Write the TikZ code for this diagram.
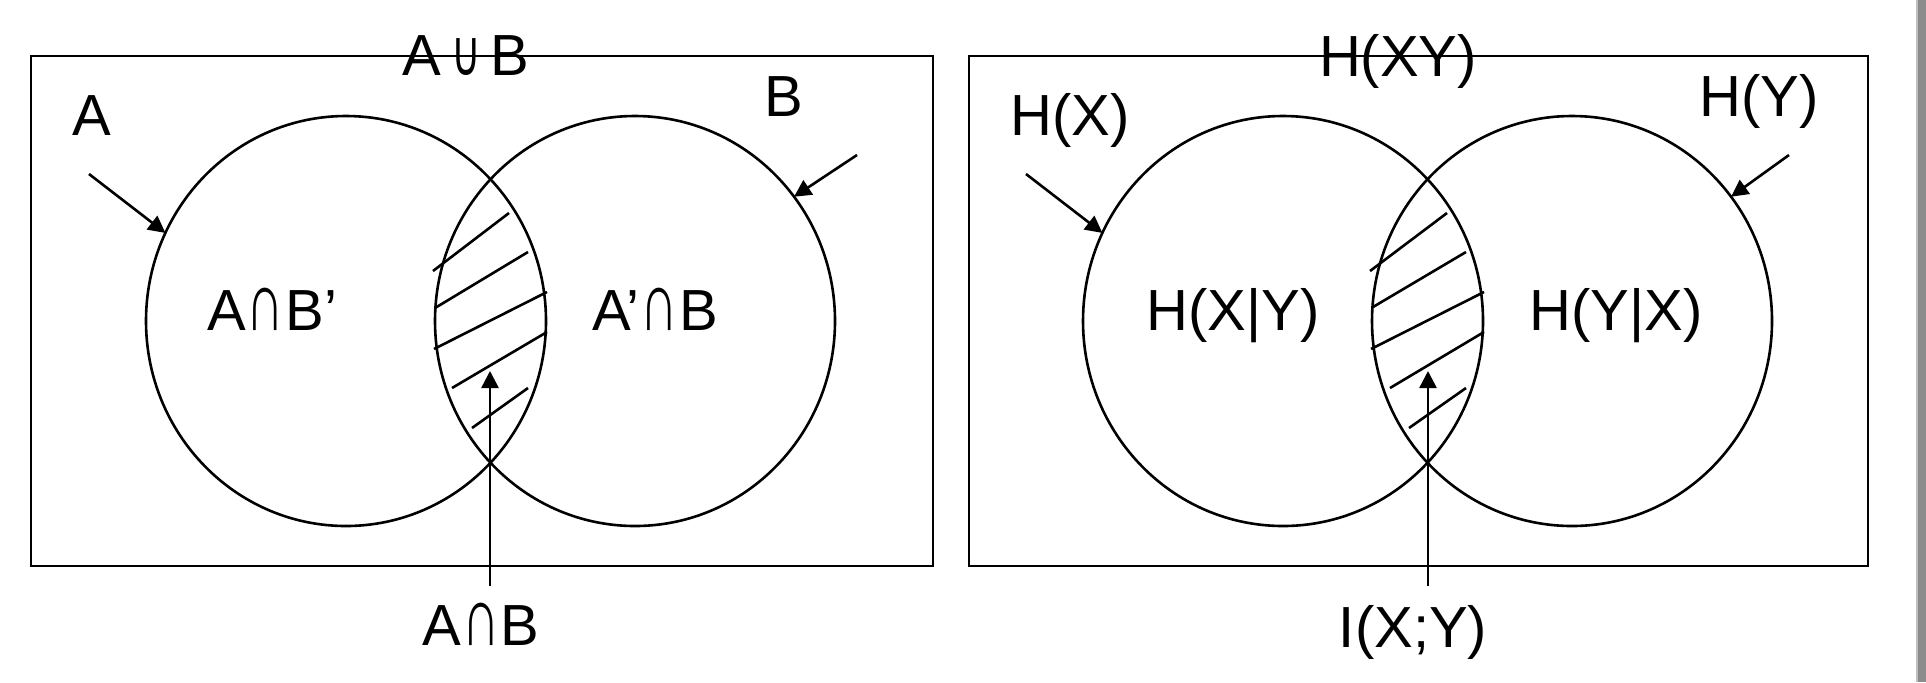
\documentclass[tikz,border=0pt]{standalone}
\usepackage{fontspec}
\setmainfont{Liberation Sans}
\newfontfamily\symfont{DejaVu Sans}
\usetikzlibrary{shapes.geometric,arrows.meta}
\newcommand{\capint}{\kern0.5pt\raisebox{0pt}{\scalebox{0.9}[1.45]{∩}}\kern0.5pt}
\newcommand{\capuni}{\,\raisebox{0pt}{\scalebox{0.7}[1.1]{\symfont ∪}}\,}
\begin{document}
\begin{tikzpicture}[x=0.5pt,y=-0.5pt,
  ln/.style={line width=1.3pt},
  frame/.style={draw,line width=1.4pt},
  setshape/.style={ellipse,draw,line width=1.3pt,inner sep=0pt,outer sep=0pt,minimum width=200pt,minimum height=205pt},
  lbl/.style={anchor=base,inner sep=0pt,font=\fontsize{29}{33}\selectfont},
  arr/.style={line width=1.3pt,-{Triangle[length=8.5pt,width=8.5pt]}}]
\useasboundingbox (0,0) rectangle (1926,682);
\fill[white] (0,0) rectangle (1926,682);
\fill[black!45] (1918,0) rectangle (1926,682);
\fill[black!25] (1916,0) rectangle (1918,682);
% ---------- left panel ----------
\draw[frame] (31,56) rectangle (933,566);
\node[setshape] (cA) at (346,321) {};
\node[setshape] (cB) at (635,321) {};
\draw[ln] (433,271) -- (509,213);
\draw[ln] (435,308) -- (528,252);
\draw[ln] (434,349) -- (547,292);
\draw[ln] (452,388) -- (547,332);
\draw[ln] (472,428) -- (528,388);
\node[lbl] (lAuB) at (466,75) {A\capuni B};
\node[lbl] (lA) at (92,135) {A};
\node[lbl] (lB) at (784,116) {B};
\node[lbl] (lAnBp) at (272,330) {A\capint B’};
\node[lbl] (lApnB) at (655,330) {A’\capint B};
\node[lbl] (lAnB) at (481,645) {A\capint B};
\coordinate (tA) at (89,174);
\coordinate (tB) at (857,155);
\coordinate (sAB) at (490,586);
\coordinate (eAB) at (490,371);
\draw[arr] (tA) -- (cA.154);
\draw[arr] (tB) -- (cB.38);
\draw[arr] (sAB) -- (eAB);
% ---------- right panel ----------
\draw[frame] (969,56) rectangle (1868,566);
\node[setshape] (cX) at (1283,321) {};
\node[setshape] (cY) at (1572,321) {};
\draw[ln] (1370,271) -- (1447,213);
\draw[ln] (1373,307) -- (1466,252);
\draw[ln] (1371,349) -- (1484,292);
\draw[ln] (1390,388) -- (1484,332);
\draw[ln] (1409,428) -- (1466,388);
\node[lbl] (lHXY) at (1398,76) {H(XY)};
\node[lbl] (lHX) at (1070,135) {H(X)};
\node[lbl] (lHY) at (1759,116) {H(Y)};
\node[lbl] (lHXgY) at (1233,330) {H(X|Y)};
\node[lbl] (lHYgX) at (1616,330) {H(Y|X)};
\node[lbl] (lIXY) at (1413,647) {I(X;Y)};
\coordinate (tX) at (1026,174);
\coordinate (tY) at (1789,155);
\coordinate (sI) at (1428,586);
\coordinate (eI) at (1428,371);
\draw[arr] (tX) -- (cX.154);
\draw[arr] (tY) -- (cY.38);
\draw[arr] (sI) -- (eI);
\end{tikzpicture}
\end{document}
